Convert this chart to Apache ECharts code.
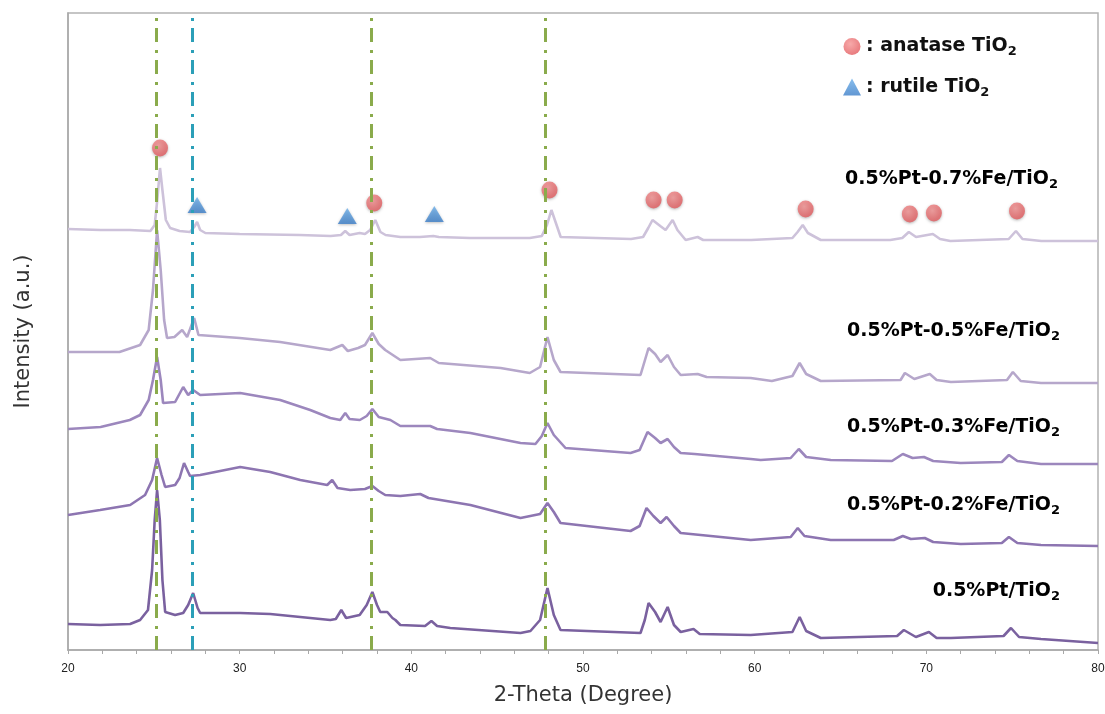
<!DOCTYPE html>
<html>
<head>
<meta charset="utf-8">
<script src="https://cdn.jsdelivr.net/npm/echarts@6/dist/echarts.min.js"></script>
<style>
html,body{margin:0;padding:0;background:#fff;}
#chart{width:1105px;height:714px;}
</style>
</head>
<body>
<div id="chart"></div>
<script>
// ---- data (2-Theta in degrees, intensity in arbitrary units) ----
const xTicks = [20, 30, 40, 50, 60, 70, 80];

const s07 = [[20.0,421],[21.9,420],[23.6,420],[24.8,419],[25.05,425],[25.2,450],[25.36,482],[25.5,460],[25.7,430],[25.95,422],[26.5,419],[27.1,418],[27.35,423],[27.52,428],[27.7,420],[28.0,417],[30.0,416],[33.5,415],[35.3,414],[35.9,415],[36.15,419],[36.4,415],[36.99,417],[37.3,416],[37.6,420],[37.9,430],[38.2,418],[38.5,415],[39.36,413],[40.5,413],[41.28,414],[41.6,413],[43.4,412],[46.9,412],[47.6,414],[47.9,425],[48.16,440],[48.4,428],[48.7,413],[52.8,411],[53.5,413],[53.8,422],[54.05,430],[54.5,424],[54.81,420],[55.22,430],[55.5,420],[55.98,410],[56.68,413],[57.0,410],[59.8,410],[62.2,412],[62.5,418],[62.8,425],[63.1,417],[63.85,410],[67.9,410],[68.6,412],[68.98,418],[69.4,413],[70.38,416],[70.8,411],[71.4,409],[74.8,411],[75.22,419],[75.6,411],[76.7,409],[80.0,409]];

const s05 = [[20.0,298],[23.0,298],[24.2,305],[24.7,320],[24.95,360],[25.19,420],[25.4,380],[25.6,330],[25.77,312],[26.2,313],[26.65,320],[26.94,313],[27.35,332],[27.6,315],[27.7,313],[30.0,312],[32.36,308],[35.28,300],[35.98,305],[36.3,299],[36.9,302],[37.3,305],[37.73,317],[38.1,306],[38.48,300],[39.36,290],[41.1,292],[41.6,287],[45.2,282],[46.9,277],[47.5,283],[47.93,313],[48.3,290],[48.69,278],[53.35,275],[53.82,302],[54.2,296],[54.52,288],[54.93,295],[55.3,283],[55.69,275],[56.68,276],[57.2,273],[59.77,272],[61.0,269],[62.2,274],[62.62,287],[63.0,276],[63.85,269],[68.5,270],[68.75,277],[69.3,271],[70.2,276],[70.6,270],[71.43,268],[74.7,270],[75.04,278],[75.5,269],[76.68,267],[80.0,267]];

const s03 = [[20.0,221],[21.9,223],[23.6,230],[24.2,235],[24.7,250],[24.95,270],[25.19,293],[25.4,270],[25.54,247],[26.24,248],[26.71,263],[27.0,255],[27.29,260],[27.7,255],[30.03,257],[32.36,250],[34.11,240],[35.28,232],[35.86,230],[36.15,237],[36.4,231],[37.0,230],[37.4,234],[37.73,241],[38.1,233],[38.78,230],[39.36,224],[41.1,224],[41.5,221],[43.44,217],[46.36,207],[47.23,206],[47.6,214],[47.93,227],[48.3,215],[48.98,202],[52.77,197],[53.3,200],[53.76,218],[54.2,212],[54.52,207],[54.93,211],[55.3,203],[55.69,197],[56.5,196],[59.77,191],[60.35,190],[62.1,192],[62.57,201],[63.0,193],[64.43,190],[68.0,189],[68.63,196],[69.2,192],[69.86,193],[70.4,189],[72.0,187],[74.4,188],[74.81,195],[75.3,189],[76.68,186],[80.0,186]];

const s02 = [[20.0,135],[21.87,140],[23.62,145],[24.49,155],[24.9,170],[25.19,192],[25.45,175],[25.66,163],[26.24,165],[26.5,172],[26.76,187],[27.0,178],[27.11,174],[27.7,175],[30.03,183],[31.78,178],[33.53,170],[35.1,165],[35.39,170],[35.7,162],[36.44,160],[37.3,161],[37.73,164],[38.1,159],[38.48,155],[39.36,154],[40.52,156],[41.0,152],[43.44,145],[46.36,132],[47.5,136],[47.93,147],[48.3,138],[48.69,127],[52.77,119],[53.3,124],[53.7,142],[54.1,134],[54.52,127],[54.87,133],[55.3,124],[55.69,117],[59.77,110],[62.1,113],[62.51,122],[62.9,114],[64.43,110],[68.1,110],[68.63,114],[69.1,111],[69.91,112],[70.4,108],[72.01,106],[74.4,107],[74.81,113],[75.3,107],[76.68,105],[80.0,104]];

const sPt = [[20.0,26],[21.87,25],[23.62,26],[24.2,30],[24.66,40],[24.9,80],[25.05,130],[25.19,160],[25.35,130],[25.5,70],[25.66,38],[26.24,35],[26.71,37],[27.0,45],[27.29,57],[27.55,42],[27.7,37],[30.03,37],[31.78,36],[33.53,33],[35.28,30],[35.6,31],[35.92,40],[36.2,32],[36.99,35],[37.4,45],[37.73,58],[38.0,45],[38.19,38],[38.6,38],[38.9,32],[39.07,30],[39.36,25],[40.8,24],[41.17,29],[41.5,24],[42.27,22],[46.36,17],[46.94,19],[47.5,30],[47.93,62],[48.3,35],[48.69,20],[53.35,17],[53.6,30],[53.82,47],[54.2,38],[54.52,28],[54.93,43],[55.3,25],[55.69,18],[56.44,21],[56.8,16],[59.77,15],[62.2,18],[62.62,33],[63.0,19],[63.85,12],[68.3,14],[68.69,20],[69.39,13],[70.15,18],[70.6,12],[71.43,12],[74.5,14],[74.93,22],[75.4,13],[76.68,11],[80.0,7]];

// phase markers
const anataseMarks = [[25.36,502],[37.84,447],[48.05,460],[54.11,450],[55.34,450],[62.97,441],[69.04,436],[70.44,437],[75.28,439]];
const rutileMarks = [[27.52,445],[36.27,434],[41.34,436]];

// reference (dash-dot) lines
const greenLines = [25.13, 37.67, 47.81];
const cyanLines = [27.23];

const seriesNames = ['0.5%Pt-0.7%Fe/TiO', '0.5%Pt-0.5%Fe/TiO', '0.5%Pt-0.3%Fe/TiO', '0.5%Pt-0.2%Fe/TiO', '0.5%Pt/TiO'];
const seriesData = [s07, s05, s03, s02, sPt];
const seriesColors = ['#cdc2da', '#b6a7cb', '#9c87bd', '#8d75b1', '#7a619f'];

// ---- chart ----
const chart = echarts.init(document.getElementById('chart'));
const FONT = 'DejaVu Sans';
const richLabel = {
  a: {fontFamily: FONT, fontWeight: 'bold', fontSize: 19, lineHeight: 24, color: '#111'},
  b: {fontFamily: FONT, fontWeight: 'bold', fontSize: 13, lineHeight: 10, verticalAlign: 'bottom', color: '#111'}
};
const labelPos = [[1058,179],[1060,331],[1060,427],[1060,505],[1060,591]];

const lineSeries = seriesData.map((d, i) => ({
  name: seriesNames[i] + '2',
  type: 'line',
  data: d,
  showSymbol: false,
  silent: true,
  lineStyle: {color: seriesColors[i], width: 2.6},
  itemStyle: {color: seriesColors[i]},
  z: 2 + i * 0.1
}));

const dashPattern = [14, 7, 3, 8];
const markLineData = greenLines.map(v => ({xAxis: v, lineStyle: {color: '#8aab4c', width: 3, type: dashPattern}}))
  .concat(cyanLines.map(v => ({xAxis: v, lineStyle: {color: '#2b9fb8', width: 3, type: dashPattern}})));

const option = {
  animation: false,
  backgroundColor: '#fff',
  grid: {left: 68, right: 7, top: 13, bottom: 64, show: true, borderColor: '#b3b3b3', borderWidth: 1.5, outerBoundsMode: 'none'},
  legend: {
    data: [{name: 'anatase', icon: 'circle'}, {name: 'rutile', icon: 'triangle'}],
    orient: 'vertical',
    left: 838,
    top: 32,
    itemWidth: 18,
    itemHeight: 17,
    itemGap: 19,
    selectedMode: false,
    formatter: name => name === 'anatase' ? '{a|: anatase TiO}{b|2}' : '{a|: rutile TiO}{b|2}',
    textStyle: {rich: richLabel}
  },
  xAxis: {
    type: 'value',
    min: 20, max: 80, interval: 10,
    name: '2-Theta (Degree)',
    nameLocation: 'middle',
    nameGap: 35,
    nameTextStyle: {fontFamily: FONT, fontSize: 21, color: '#333'},
    axisLine: {show: true, lineStyle: {color: '#a8a8a8', width: 1.5}},
    axisTick: {show: true, length: 4, lineStyle: {color: '#a8a8a8', width: 1}},
    minorTick: {show: true, splitNumber: 5, length: 4, lineStyle: {color: '#a8a8a8', width: 1}},
    splitLine: {show: false},
    axisLabel: {fontFamily: 'Liberation Sans', fontSize: 12, color: '#222', margin: 13,
      formatter: v => xTicks.indexOf(v) >= 0 ? String(v) : ''}
  },
  yAxis: {
    type: 'value',
    min: 0, max: 637,
    name: 'Intensity (a.u.)',
    nameLocation: 'middle',
    nameGap: 34,
    nameTextStyle: {fontFamily: FONT, fontSize: 21, color: '#333'},
    axisLine: {show: true, lineStyle: {color: '#a8a8a8', width: 1.5}},
    axisTick: {show: false},
    axisLabel: {show: false},
    splitLine: {show: false}
  },
  series: lineSeries.concat([
    {
      name: 'anatase',
      type: 'scatter',
      data: anataseMarks,
      symbol: 'circle',
      symbolSize: [16, 17],
      silent: true,
      itemStyle: {
        color: {type: 'radial', x: 0.4, y: 0.35, r: 0.75, colorStops: [{offset: 0, color: '#f59494'}, {offset: 1, color: '#e05256'}]},
        shadowBlur: 3, shadowColor: 'rgba(0,0,0,0.35)', shadowOffsetY: 1
      },
      z: 4
    },
    {
      name: 'rutile',
      type: 'scatter',
      data: rutileMarks,
      symbol: 'triangle',
      symbolSize: [19, 16],
      silent: true,
      itemStyle: {
        color: {type: 'linear', x: 0, y: 0, x2: 0, y2: 1, colorStops: [{offset: 0, color: '#6aaee9'}, {offset: 1, color: '#3a7dc8'}]},
        shadowBlur: 3, shadowColor: 'rgba(0,0,0,0.3)', shadowOffsetY: 1
      },
      z: 4
    },
    {
      name: 'refLines',
      type: 'line',
      data: [],
      silent: true,
      z: 6,
      markLine: {silent: true, symbol: 'none', label: {show: false}, animation: false, data: markLineData}
    }
  ]),
  graphic: seriesNames.map((n, i) => ({
    type: 'text',
    silent: true,
    z: 10,
    x: labelPos[i][0],
    y: labelPos[i][1],
    style: {text: '{a|' + n + '}{b|2}', rich: richLabel, align: 'right', verticalAlign: 'middle'}
  }))
};
chart.setOption(option);
</script>
</body>
</html>
